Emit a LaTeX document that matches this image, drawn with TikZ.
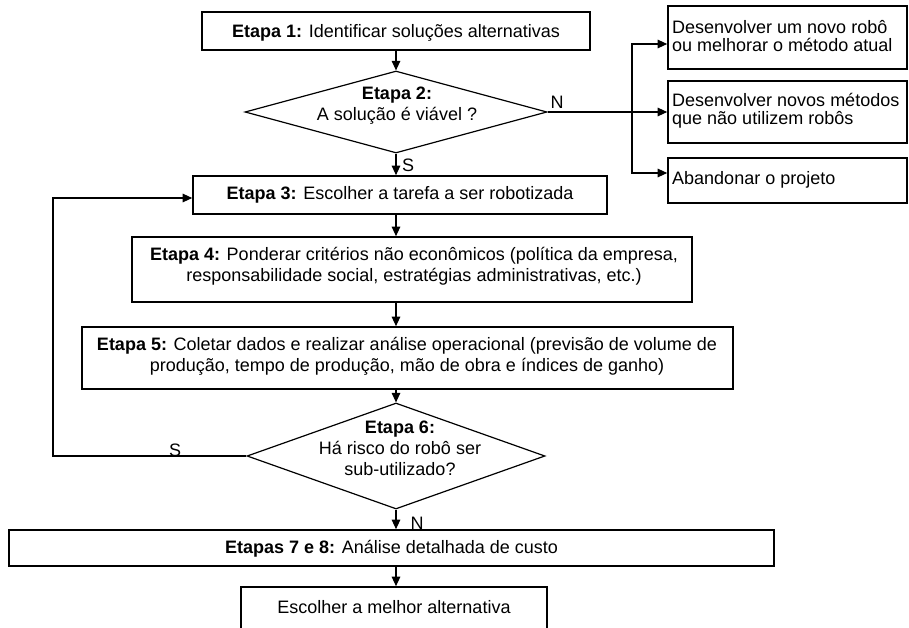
\documentclass[tikz,border=0pt]{standalone}
\usepackage{fontspec}
\setmainfont{Liberation Sans}
\usetikzlibrary{arrows.meta,shapes.geometric}
\begin{document}
\begin{tikzpicture}[x=1pt,y=-1pt,
  box/.style={draw, line width=1.6pt, rectangle, inner sep=0pt},
  ddia/.style={draw, line width=1.2pt, diamond, inner sep=0pt},
  txt/.style={font=\fontsize{18}{21}\selectfont, align=center, inner sep=0pt},
  rtxt/.style={font=\fontsize{18}{18}\selectfont, align=left, inner sep=0pt, anchor=west},
  lbl/.style={font=\fontsize{18}{21}\selectfont, inner sep=0pt},
  conn/.style={line width=1.2pt, -{Triangle[length=9.5pt,width=8.5pt]}},
  plain/.style={line width=1.2pt}]
\clip (0,0) rectangle (909,628);

% main boxes and decisions
\node[box, minimum width=388pt, minimum height=38pt] (b1) at (396,31) {};
\node[txt] (t1) at (396,33) {\textbf{Etapa 1:} Identificar soluções alternativas};

\node[ddia, minimum width=302pt, minimum height=82pt] (d2) at (396,112) {};
\node[txt] (t2) at (397,106) {\textbf{Etapa 2:}\\A solução é viável ?};

\node[box, minimum width=414pt, minimum height=38pt] (b3) at (400,195) {};
\node[txt] (t3) at (400,195) {\textbf{Etapa 3:} Escolher a tarefa a ser robotizada};

\node[box, minimum width=560pt, minimum height=65pt] (b4) at (412,269.5) {};
\node[txt] (t4) at (414,266.5) {\textbf{Etapa 4:} Ponderar critérios não econômicos (política da empresa,\\responsabilidade social, estratégias administrativas, etc.)};

\node[box, minimum width=651pt, minimum height=62pt] (b5) at (407.5,358) {};
\node[txt] (t5) at (407,356.5) {\textbf{Etapa 5:} Coletar dados e realizar análise operacional (previsão de volume de\\produção, tempo de produção, mão de obra e índices de ganho)};

\node[ddia, minimum width=298pt, minimum height=106pt] (d6) at (396,456) {};
\node[txt] (t6) at (400,448) {\textbf{Etapa 6:}\\Há risco do robô ser\\sub-utilizado?};

\node[box, minimum width=765pt, minimum height=36pt] (b78) at (391.5,548) {};
\node[txt] (t78) at (391.5,549) {\textbf{Etapas 7 e 8:} Análise detalhada de custo};

\node[box, minimum width=306pt, minimum height=58pt] (bf) at (394,616) {};
\node[txt] (tf) at (394,607) {Escolher a melhor alternativa};

% right-hand boxes
\node[box, minimum width=239pt, minimum height=63pt] (ra) at (787.5,37.5) {};
\node[rtxt] (rat) at (672,36.5) {Desenvolver um novo robô\\ou melhorar o método atual};
\node[box, minimum width=239pt, minimum height=62pt] (rb) at (787.5,112) {};
\node[rtxt] (rbt) at (672,111) {Desenvolver novos métodos\\que não utilizem robôs};
\node[box, minimum width=239pt, minimum height=45pt] (rc) at (787.5,180.5) {};
\node[rtxt] (rct) at (672,180) {Abandonar o projeto};

% branch for N of stage 2
\coordinate (br) at (632,112);
\coordinate (brtop) at (632,44);
\coordinate (brbot) at (632,173);
\draw[conn] (d2.east) -- (rb.west);
\draw[conn] (br) |- (ra.west |- brtop);
\draw[conn] (br) |- (rc.west |- brbot);
\node[lbl] (n1) at (557,102) {N};

% main flow
\draw[conn] (b1.south) -- (d2.north);
\draw[conn] (d2.south) -- (d2.south |- b3.north);
\node[lbl] (s1) at (408,165) {S};
\draw[conn] (b1.south |- b3.south) -- (b1.south |- b4.north);
\draw[conn] (b1.south |- b4.south) -- (b1.south |- b5.north);
\draw[conn] (b1.south |- b5.south) -- (d6.north);
\draw[conn] (d6.south) -- (d6.south |- b78.north);
\node[lbl] (n2) at (417,523) {N};
\draw[conn] (b1.south |- b78.south) -- (b1.south |- bf.north);

% loop back for S of stage 6
\coordinate (lp1) at (53,456);
\coordinate (lp2) at (53,198);
\draw[conn] (d6.west) -- (lp1) -- (lp2) -- (b3.west |- lp2);
\node[lbl] (s2) at (175,450) {S};
\end{tikzpicture}
\end{document}
